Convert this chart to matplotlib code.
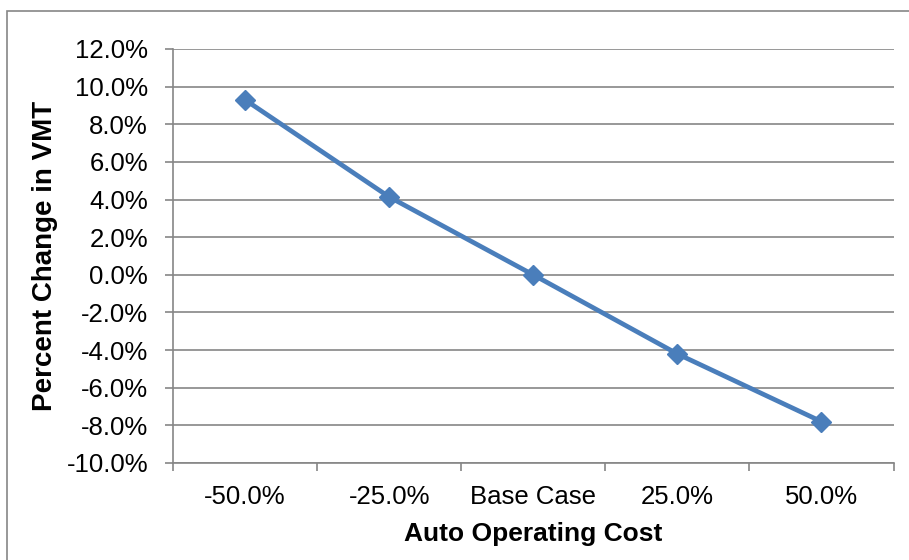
import matplotlib
matplotlib.use("Agg")
import matplotlib.pyplot as plt
from matplotlib.patches import Rectangle
from matplotlib.ticker import FuncFormatter, FixedLocator

plt.rcParams['font.family'] = ['Liberation Sans', 'DejaVu Sans']

# sensitivity of VMT to auto operating cost
scenarios = ['-50.0%', '-25.0%', 'Base Case', '25.0%', '50.0%']
vmt_change = [9.3, 4.14, 0.0, -4.2, -7.8]

grid_col = '#868686'
line_col = '#4A7EBB'

fig = plt.figure(figsize=(9.09, 5.6), dpi=100)
ax = fig.add_axes([173 / 909, 97 / 560, 720.5 / 909, 414 / 560])

x = list(range(len(scenarios)))
ax.plot(x, vmt_change, color=line_col, lw=3.4, marker='D', ms=10,
        mec=line_col, mfc=line_col, zorder=3, clip_on=False)

ax.set_xlim(-0.5, len(scenarios) - 0.5)
ax.set_ylim(-10, 12)
ax.set_yticks(range(-10, 13, 2))
ax.yaxis.set_major_formatter(FuncFormatter(lambda v, p: f'{v:.1f}%'))
ax.yaxis.grid(True, color=grid_col, lw=1.2)
ax.set_axisbelow(True)

ax.set_xticks(x)
ax.set_xticklabels(scenarios)
ax.xaxis.set_minor_locator(FixedLocator([i - 0.5 for i in range(len(scenarios) + 1)]))
ax.tick_params(axis='x', which='major', length=0, pad=16, labelsize=18.5)
ax.tick_params(axis='x', which='minor', length=6, color=grid_col, width=1.2)
ax.tick_params(axis='y', length=6, color=grid_col, width=1.2, labelsize=18.5, pad=12)

for s in ['top', 'right']:
    ax.spines[s].set_visible(False)
for s in ['left', 'bottom']:
    ax.spines[s].set_color(grid_col)
    ax.spines[s].set_linewidth(1.2)

ax.set_xlabel('Auto Operating Cost', fontsize=19, fontweight='bold', labelpad=9)
ax.set_ylabel('Percent Change in VMT', fontsize=20, fontweight='bold', labelpad=6)

# outer chart frame (right and bottom edges run off the canvas)
fig.patches.append(Rectangle((7.5 / 909, -5 / 560), 910 / 909, 554.5 / 560,
                             transform=fig.transFigure, fill=False,
                             edgecolor=grid_col, lw=1.2))

fig.savefig('out.png', dpi=100)
